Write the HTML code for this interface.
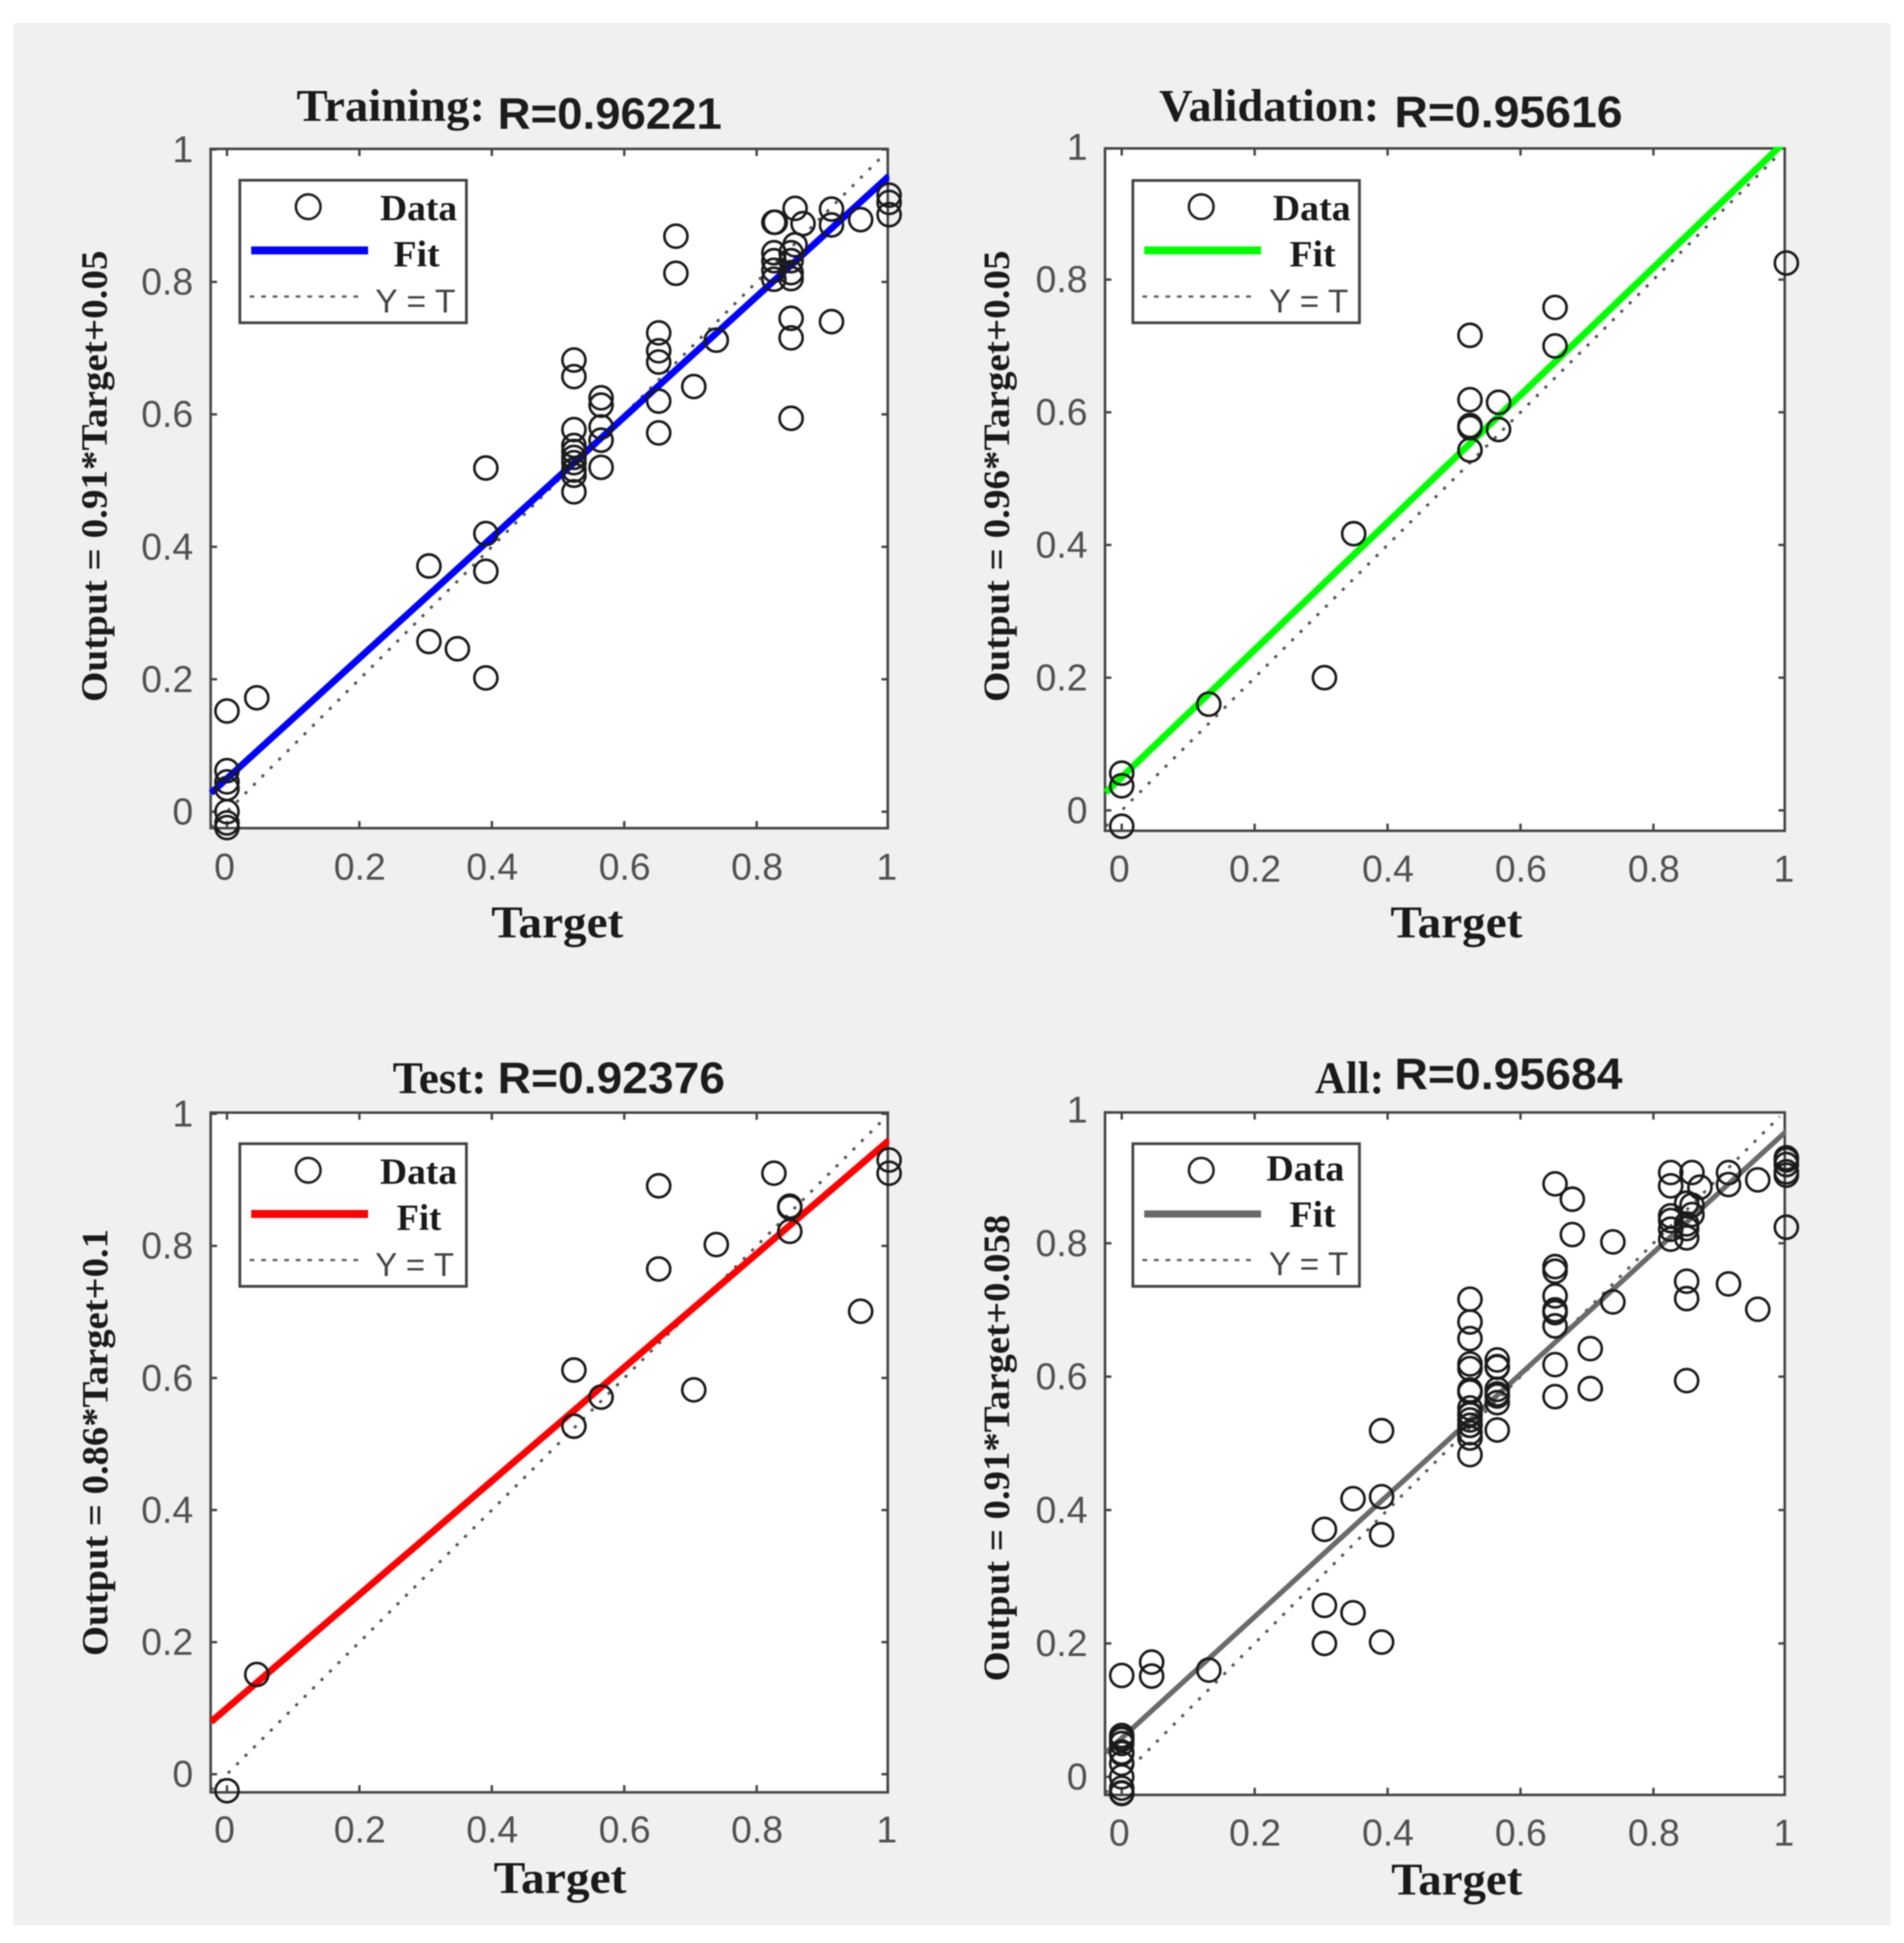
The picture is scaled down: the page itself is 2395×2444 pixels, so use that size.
<!DOCTYPE html>
<html lang="en">
<head>
<meta charset="utf-8">
<title>Regression plots</title>
<style>
html,body{margin:0;padding:0;background:#fff;width:2395px;height:2444px;overflow:hidden}
svg{display:block;filter:blur(0.7px)}
.tb{font-family:"Liberation Serif",serif;font-weight:700;fill:#1a1a1a}
.ab{font-family:"Liberation Sans",sans-serif;font-weight:700;fill:#1c1c1c}
.tick{font-family:"Liberation Sans",sans-serif;font-size:47px;fill:#505050}
.yt{font-family:"Liberation Sans",sans-serif;font-size:42px;fill:#444}
.frame{fill:#fff;stroke:#444;stroke-width:3.2}
.leg{fill:#fff;stroke:#444;stroke-width:3.5}
</style>
</head>
<body>
<svg id="figure" xmlns="http://www.w3.org/2000/svg" width="2395" height="2444" viewBox="0 0 2395 2444">
  <rect x="17" y="29" width="2361" height="2393" fill="#f0f0f0"/>

  <!-- Training -->
  <g id="training">
    <text class="tb" x="373" y="152" font-size="57" textLength="237" lengthAdjust="spacingAndGlyphs">Training:</text>
    <text class="ab" x="626" y="162" font-size="56" textLength="282" lengthAdjust="spacingAndGlyphs">R=0.96221</text>
    <rect class="frame" x="265" y="187.3" width="851.7" height="854.4"/>
    <g id="training-ticks"></g>
    <g id="training-marks"></g>
    <text class="tb" x="618" y="1179" font-size="57" textLength="166" lengthAdjust="spacingAndGlyphs">Target</text>
    <text class="tb" transform="translate(134 883) rotate(-90)" font-size="47" textLength="568" lengthAdjust="spacingAndGlyphs">Output = 0.91*Target+0.05</text>
    <g>
      <rect class="leg" x="301.7" y="226.7" width="285" height="179.3"/>
      <circle cx="387.7" cy="260" r="15.5" fill="none" stroke="#222" stroke-width="3.2"/>
      <line x1="316" y1="315" x2="463" y2="315" stroke="#0000ff" stroke-width="10"/>
      <line x1="314" y1="373" x2="455" y2="373" stroke="#666" stroke-width="3" stroke-dasharray="6 8.5"/>
      <text class="tb" x="478" y="277" font-size="47" textLength="97" lengthAdjust="spacingAndGlyphs">Data</text>
      <text class="tb" x="495" y="335" font-size="47" textLength="58" lengthAdjust="spacingAndGlyphs">Fit</text>
      <text class="yt" x="472" y="393" textLength="101" lengthAdjust="spacingAndGlyphs">Y = T</text>
    </g>
  </g>

  <!-- Validation -->
  <g id="validation">
    <text class="tb" x="1458" y="152" font-size="57" textLength="277" lengthAdjust="spacingAndGlyphs">Validation:</text>
    <text class="ab" x="1754" y="160" font-size="56" textLength="287" lengthAdjust="spacingAndGlyphs">R=0.95616</text>
    <rect class="frame" x="1390" y="186.7" width="855" height="858.3"/>
    <g id="validation-ticks"></g>
    <g id="validation-marks"></g>
    <text class="tb" x="1749" y="1179" font-size="57" textLength="166" lengthAdjust="spacingAndGlyphs">Target</text>
    <text class="tb" transform="translate(1269 883) rotate(-90)" font-size="47" textLength="568" lengthAdjust="spacingAndGlyphs">Output = 0.96*Target+0.05</text>
    <g>
      <rect class="leg" x="1425" y="227" width="285" height="179"/>
      <circle cx="1511" cy="260" r="15.5" fill="none" stroke="#222" stroke-width="3.2"/>
      <line x1="1439.3" y1="315" x2="1586.3" y2="315" stroke="#00ff00" stroke-width="10"/>
      <line x1="1437" y1="373" x2="1578" y2="373" stroke="#666" stroke-width="3" stroke-dasharray="6 8.5"/>
      <text class="tb" x="1601" y="277" font-size="47" textLength="98" lengthAdjust="spacingAndGlyphs">Data</text>
      <text class="tb" x="1622" y="335" font-size="47" textLength="58" lengthAdjust="spacingAndGlyphs">Fit</text>
      <text class="yt" x="1596" y="393" textLength="100" lengthAdjust="spacingAndGlyphs">Y = T</text>
    </g>
  </g>

  <!-- Test -->
  <g id="test">
    <text class="tb" x="494" y="1375" font-size="57" textLength="118" lengthAdjust="spacingAndGlyphs">Test:</text>
    <text class="ab" x="626" y="1375" font-size="56" textLength="286" lengthAdjust="spacingAndGlyphs">R=0.92376</text>
    <rect class="frame" x="265" y="1399.5" width="851.7" height="855"/>
    <g id="test-ticks"></g>
    <g id="test-marks"></g>
    <text class="tb" x="621" y="2381" font-size="57" textLength="167" lengthAdjust="spacingAndGlyphs">Target</text>
    <text class="tb" transform="translate(135 2083) rotate(-90)" font-size="47" textLength="537" lengthAdjust="spacingAndGlyphs">Output = 0.86*Target+0.1</text>
    <g>
      <rect class="leg" x="301.7" y="1438.6" width="285" height="179.4"/>
      <circle cx="387.7" cy="1472" r="15.5" fill="none" stroke="#222" stroke-width="3.2"/>
      <line x1="316" y1="1527" x2="463" y2="1527" stroke="#ff0000" stroke-width="10"/>
      <line x1="314" y1="1585" x2="455" y2="1585" stroke="#666" stroke-width="3" stroke-dasharray="6 8.5"/>
      <text class="tb" x="478" y="1489" font-size="47" textLength="97" lengthAdjust="spacingAndGlyphs">Data</text>
      <text class="tb" x="499" y="1547" font-size="47" textLength="56" lengthAdjust="spacingAndGlyphs">Fit</text>
      <text class="yt" x="472" y="1605" textLength="99" lengthAdjust="spacingAndGlyphs">Y = T</text>
    </g>
  </g>

  <!-- All -->
  <g id="all">
    <text class="tb" x="1654" y="1375" font-size="57" textLength="87" lengthAdjust="spacingAndGlyphs">All:</text>
    <text class="ab" x="1754" y="1370" font-size="56" textLength="287" lengthAdjust="spacingAndGlyphs">R=0.95684</text>
    <rect class="frame" x="1390" y="1399.3" width="855" height="858.4"/>
    <g id="all-ticks"></g>
    <g id="all-marks"></g>
    <text class="tb" x="1750" y="2383" font-size="57" textLength="165" lengthAdjust="spacingAndGlyphs">Target</text>
    <text class="tb" transform="translate(1269 2115) rotate(-90)" font-size="47" textLength="587" lengthAdjust="spacingAndGlyphs">Output = 0.91*Target+0.058</text>
    <g>
      <rect class="leg" x="1425" y="1438.6" width="285" height="179.4"/>
      <circle cx="1511" cy="1472" r="15.5" fill="none" stroke="#222" stroke-width="3.2"/>
      <line x1="1439.3" y1="1527" x2="1586.3" y2="1527" stroke="#6a6a6a" stroke-width="9"/>
      <line x1="1437" y1="1585" x2="1578" y2="1585" stroke="#666" stroke-width="3" stroke-dasharray="6 8.5"/>
      <text class="tb" x="1593" y="1485" font-size="47" textLength="98" lengthAdjust="spacingAndGlyphs">Data</text>
      <text class="tb" x="1622" y="1543" font-size="47" textLength="58" lengthAdjust="spacingAndGlyphs">Fit</text>
      <text class="yt" x="1596" y="1604" textLength="100" lengthAdjust="spacingAndGlyphs">Y = T</text>
    </g>
  </g>
</svg>

<script>
// ---------- chart data ----------
const tickValues = [0, 0.2, 0.4, 0.6, 0.8, 1];
const tickLabels = ['0', '0.2', '0.4', '0.6', '0.8', '1'];

const trainingTargets = [0,0,0,0,0,0,0,0.045,0.305,0.305,0.348,0.391,0.391,0.391,0.391,
  0.524,0.524,0.524,0.524,0.524,0.524,0.524,0.524,0.524,0.524,
  0.565,0.565,0.565,0.565,0.565,0.652,0.652,0.652,0.652,0.652,0.678,0.678,0.705,0.739,
  0.826,0.828,0.826,0.826,0.826,0.826,0.852,0.852,0.852,0.852,0.852,0.852,0.852,0.858,0.858,0.87,
  0.913,0.913,0.913,0.957,1,1,1];
const trainingOutputs = [0.152,0.062,0.045,0.035,0,-0.017,-0.024,0.172,0.371,0.257,0.246,0.519,0.42,0.363,0.202,
  0.682,0.657,0.577,0.553,0.544,0.535,0.527,0.516,0.508,0.483,
  0.625,0.614,0.581,0.561,0.52,0.723,0.696,0.679,0.62,0.572,0.869,0.813,0.642,0.712,
  0.89,0.89,0.844,0.832,0.8175,0.804,0.844,0.832,0.814,0.805,0.745,0.7155,0.594,0.911,0.856,0.888,
  0.91,0.886,0.74,0.894,0.931,0.92,0.9015];
const trainingFit = [0.91, 0.05];

const validationTargets = [0,0,0,0.131,0.305,0.349,0.524,0.524,0.524,0.524,0.524,0.567,0.567,0.652,0.652,1];
const validationOutputs = [-0.024,0.037,0.056,0.16,0.2,0.417,0.716,0.619,0.58,0.577,0.543,0.615,0.574,0.758,0.7,0.825];
const validationFit = [0.96, 0.05];

const testTargets = [0,0.045,0.524,0.524,0.565,0.652,0.652,0.705,0.739,0.826,0.85,0.85,0.85,0.957,1,1];
const testOutputs = [-0.025,0.151,0.612,0.527,0.571,0.891,0.765,0.582,0.802,0.91,0.86,0.858,0.822,0.701,0.93,0.91];
const testFit = [0.86, 0.1];

const allTargets = [0,0,0,0,0,0,0,0,0,0,0,0,0.045,0.045,0.131,0.305,0.305,0.305,0.348,0.348,
  0.391,0.391,0.391,0.391,
  0.524,0.524,0.524,0.524,0.524,0.524,0.524,0.524,0.524,0.524,0.524,0.524,0.524,0.524,0.524,0.524,0.524,
  0.565,0.565,0.565,0.565,0.565,0.565,0.565,0.565,
  0.652,0.652,0.652,0.652,0.652,0.652,0.652,0.652,0.652,
  0.678,0.678,0.705,0.705,0.739,0.739,
  0.826,0.826,0.826,0.826,0.826,0.826,
  0.85,0.85,0.85,0.85,0.85,0.85,0.85,0.858,0.858,0.858,0.87,
  0.913,0.913,0.913,0.957,0.957,1,1,1,1,1,1];
const allOutputs = [0.152,0.062,0.058,0.056,0.05,0.037,0.035,0.02,0,-0.017,-0.024,-0.025,0.172,0.151,0.16,0.371,0.257,0.2,0.246,0.417,
  0.519,0.42,0.363,0.202,
  0.716,0.682,0.657,0.619,0.612,0.58,0.577,0.577,0.553,0.544,0.543,0.535,0.527,0.527,0.516,0.508,0.483,
  0.625,0.615,0.614,0.581,0.574,0.571,0.561,0.52,
  0.889,0.765,0.758,0.721,0.7,0.696,0.676,0.618,0.57,
  0.866,0.813,0.642,0.582,0.802,0.712,
  0.906,0.886,0.841,0.834,0.821,0.806,
  0.86,0.829,0.822,0.808,0.743,0.717,0.594,0.906,0.857,0.843,0.884,
  0.906,0.888,0.739,0.895,0.701,0.928,0.925,0.918,0.907,0.902,0.824];
const allFit = [0.91, 0.058];

// ---------- layout (pixels, separate from data) ----------
const AXIS_MIN = -0.024;
const SVG_NS = 'http://www.w3.org/2000/svg';

function drawPanel(id, targets, outputs, fit, color, fitWidth, g) {
  const xAxis = v => g.x0 + (g.x1 - g.x0) * v;
  const yAxis = v => g.y0 + (g.y1 - g.y0) * v;
  const ticks = document.getElementById(id + '-ticks');
  const marks = document.getElementById(id + '-marks');

  // clip for the lines
  const clip = document.createElementNS(SVG_NS, 'clipPath');
  clip.setAttribute('id', id + '-clip');
  const clipRect = document.createElementNS(SVG_NS, 'rect');
  clipRect.setAttribute('x', g.L - 4);
  clipRect.setAttribute('y', g.T - 2);
  clipRect.setAttribute('width', g.R - g.L + 6);
  clipRect.setAttribute('height', g.B - g.T + 2);
  clip.appendChild(clipRect);
  marks.appendChild(clip);

  // identity line
  const identity = document.createElementNS(SVG_NS, 'line');
  
  
  identity.setAttribute('x1', xAxis(AXIS_MIN));
  identity.setAttribute('y1', yAxis(AXIS_MIN));
  identity.setAttribute('x2', xAxis(0.99));
  identity.setAttribute('y2', yAxis(0.99));
  identity.setAttribute('stroke', '#555');
  identity.setAttribute('stroke-width', '3.6');
  identity.setAttribute('stroke-dasharray', '4 11');
  identity.setAttribute('clip-path', 'url(#' + id + '-clip)');
  marks.appendChild(identity);

  // fit line
  const fitLine = document.createElementNS(SVG_NS, 'line');
  
  
  fitLine.setAttribute('x1', xAxis(AXIS_MIN));
  fitLine.setAttribute('y1', yAxis(fit[0] * AXIS_MIN + fit[1]));
  fitLine.setAttribute('x2', xAxis(1));
  fitLine.setAttribute('y2', yAxis(fit[0] + fit[1]));
  fitLine.setAttribute('stroke', color);
  fitLine.setAttribute('stroke-width', fitWidth);
  fitLine.setAttribute('clip-path', 'url(#' + id + '-clip)');
  marks.appendChild(fitLine);

  // data points
  targets.forEach((t, i) => {
    const c = document.createElementNS(SVG_NS, 'circle');
    
    
    c.setAttribute('cx', xAxis(t));
    c.setAttribute('cy', yAxis(outputs[i]));
    c.setAttribute('r', '14.5');
    c.setAttribute('fill', 'none');
    c.setAttribute('stroke', '#1a1a1a');
    c.setAttribute('stroke-width', '3.3');
    marks.appendChild(c);
  });

  // ticks and labels
  tickValues.forEach((v, i) => {
    const px = Math.min(xAxis(v), g.R);
    const py = Math.max(yAxis(v), g.T);
    [[px, g.B, px, g.B - 9], [px, g.T, px, g.T + 9], [g.L, py, g.L + 8, py], [g.R, py, g.R - 8, py]].forEach(s => {
      const tk = document.createElementNS(SVG_NS, 'line');
      
      
      tk.setAttribute('x1', s[0]);
      tk.setAttribute('y1', s[1]);
      tk.setAttribute('x2', s[2]);
      tk.setAttribute('y2', s[3]);
      tk.setAttribute('stroke', '#444');
      tk.setAttribute('stroke-width', '3');
      ticks.appendChild(tk);
    });
    const xl = document.createElementNS(SVG_NS, 'text');
    
    
    xl.setAttribute('class', 'tick');
    xl.setAttribute('text-anchor', 'middle');
    xl.setAttribute('x', xAxis(v) + (v === 0 || v === 1 ? -3 : 0.5));
    xl.setAttribute('y', g.B + g.xlab);
    xl.textContent = tickLabels[i];
    ticks.appendChild(xl);
    const yl = document.createElementNS(SVG_NS, 'text');
    
    
    yl.setAttribute('class', 'tick');
    yl.setAttribute('text-anchor', 'end');
    yl.setAttribute('x', g.L - 22);
    yl.setAttribute('y', yAxis(v) + 16);
    yl.textContent = tickLabels[i];
    ticks.appendChild(yl);
  });
}

drawPanel('training', trainingTargets, trainingOutputs, trainingFit, '#0000ff', 8.5,
  {x0: 285.5, x1: 1118.4, y0: 1021, y1: 188, L: 265, R: 1116.7, T: 187.3, B: 1041.7, xlab: 65});
drawPanel('validation', validationTargets, validationOutputs, validationFit, '#00ff00', 8.5,
  {x0: 1411, x1: 2247, y0: 1019.3, y1: 184.8, L: 1390, R: 2245, T: 186.7, B: 1045, xlab: 64});
drawPanel('test', testTargets, testOutputs, testFit, '#ff0000', 8.5,
  {x0: 285.5, x1: 1118.4, y0: 2231.7, y1: 1401, L: 265, R: 1116.7, T: 1399.5, B: 2254.5, xlab: 63});
drawPanel('all', allTargets, allOutputs, allFit, '#6a6a6a', 6.5,
  {x0: 1411, x1: 2247, y0: 2235, y1: 1396, L: 1390, R: 2245, T: 1399.3, B: 2257.7, xlab: 64});
</script>
</body>
</html>
